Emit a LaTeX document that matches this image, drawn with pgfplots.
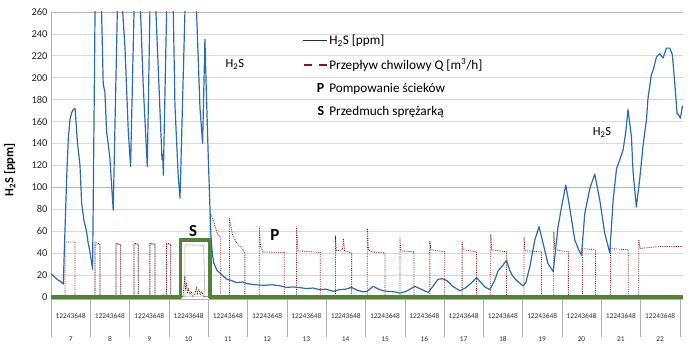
\documentclass[border=0pt]{standalone}
\usepackage{pgfplots}
\pgfplotsset{compat=1.18}
\usepackage{fontspec}
\setmainfont{Carlito}
\definecolor{h2sblue}{RGB}{43,108,176}
\definecolor{legblue}{RGB}{31,45,95}
\definecolor{qred}{RGB}{140,20,20}
\definecolor{sgreen}{RGB}{84,130,53}
\definecolor{gridgray}{RGB}{217,217,217}
\begin{document}
\begin{tikzpicture}
\fill[white] (-51bp,-56bp) rectangle (641bp,299bp);
\path[use as bounding box] (-51bp,-56bp) rectangle (641bp,299bp);
\begin{axis}[
 at={(0,0)}, anchor=south west,
 scale only axis, width=632bp, height=287bp,
 xmin=0, xmax=386, ymin=-2, ymax=260,
 axis x line=bottom, axis y line=left, axis line style={-, gray!60},
 /pgf/number format/assume math mode=true,
 ytick={0,20,...,260}, ymajorgrids, grid style={gridgray, line width=0.7pt},
 extra y ticks={100,260}, extra y tick labels={}, extra y tick style={grid style={gray!55, line width=0.7pt}},
 yticklabel style={font=\fontsize{10.5}{12}\selectfont, text=black!85},
 xtick={12,36,...,372}, xticklabel={12243648},
 xticklabel style={font=\fontsize{7.4}{8}\selectfont, text=black!80, yshift=-11bp},
 extra x ticks={12,36,...,372},
 extra x tick labels={7,8,9,10,11,12,13,14,15,16,17,18,19,20,21,22},
 extra x tick style={xticklabel style={yshift=-23bp}},
 minor xtick={0,24,...,384}, minor tick length=38bp, major tick length=0pt,
 tick align=outside, tick style={gray!60},
 ylabel={\bfseries H\textsubscript{2}S [ppm]},
 ylabel style={at={(axis description cs:-0.065,0.45)}, anchor=center, font=\fontsize{12.5}{14}\selectfont},
 legend style={at={(axis description cs:0.392,0.935)}, anchor=north west, draw=none, fill=none,
   font=\fontsize{13.3}{15}\selectfont, row sep=8.5bp},
 legend cell align=left,
]
\addlegendimage{legend image code/.code={\draw[draw=legblue, solid, line width=1.2pt] (0bp,0bp) -- (24bp,0bp);}}
\addlegendentry{H\textsubscript{2}S [ppm]}
\addlegendimage{legend image code/.code={\draw[draw=qred, line width=1.6pt, dash pattern=on 8bp off 7bp] (1bp,0bp) -- (24bp,0bp);}}
\addlegendentry{Przepływ chwilowy Q [m\textsuperscript{3}/h]}
\addlegendimage{legend image code/.code={\path[draw=none] (0bp,0bp) -- (24bp,0bp);}}
\addlegendentry{\makebox[0pt][r]{\bfseries\fontsize{14}{15}\selectfont P\hspace{5bp}}Pompowanie ścieków}
\addlegendimage{legend image code/.code={\path[draw=none] (0bp,0bp) -- (24bp,0bp);}}
\addlegendentry{\makebox[0pt][r]{\bfseries\fontsize{14}{15}\selectfont S\hspace{5bp}}Przedmuch sprężarką}

% grey auxiliary series
\addplot[gray!60, line width=0.6pt, forget plot] coordinates {
(0,0) (26.9,0) (26.9,48) (29.9,48) (29.9,0) (39.7,0) (39.7,48) (42.6,48) (42.6,0)
(50.7,0) (50.7,48) (53.3,48) (53.3,0) (60.4,0) (60.4,48) (63.5,48) (63.5,0)
(70.6,0) (70.6,48) (73.1,48) (73.1,0) (81.8,0) (81.8,46) (82.6,47.5) (93.2,47) (94,0) (386,0)};

% flow Q
\addplot[qred, densely dotted, line width=0.8pt, forget plot] coordinates {
(0,0) (8.5,0) (8.5,50) (14.7,50) (14.7,0) (26.9,0) (26.9,50) (29.9,48) (29.9,0)
(39.7,0) (39.7,49) (42.6,47) (42.6,0) (50.7,0) (50.7,49) (53.3,48) (53.3,0)
(60.4,0) (60.4,49) (63.5,48) (63.5,0) (70.6,0) (70.6,49) (73.1,48) (73.1,0)
(80.6,0) (81.2,10) (81.7,19) (82.2,6) (82.8,13) (83.4,3) (84,8) (84.8,2) (85.6,5) (86.5,0)
(88,3) (88.8,8) (89.5,3) (90.3,7) (91.2,2) (92,5) (93,1) (94,0)
(97.1,0) (97.1,77) (99.5,68) (101.5,58) (103.7,54) (103.7,0)
(109,0) (109,72) (110.8,57) (113,50) (115.5,46) (118.4,40) (118.4,0)
(127.2,0) (127.2,64) (128,46) (129.5,41) (142.4,40.5) (142.4,0)
(150,0) (150,64) (150.8,42) (164.4,40.5) (164.4,0)
(173.7,0) (173.7,56) (174.3,42) (178,43) (178.6,53) (179.3,42) (183.6,40) (183.6,0)
(193.2,0) (193.2,63) (193.9,43) (196,41) (204,40) (204,0)
(213.1,0) (213.1,54) (213.6,42) (221.7,41) (221.7,0)
(231.4,0) (231.4,51) (232,43) (240.5,41) (240.5,0)
(251.1,0) (251.1,51) (251.7,43) (259.9,41) (259.9,0)
(268.6,0) (268.6,57) (269.2,43) (278.2,41) (278.2,0)
(288.9,0) (288.9,55) (289.5,42) (299.6,41) (299.6,0)
(307.1,0) (307.1,59) (307.7,43) (316,41) (316,0)
(324.6,0) (324.6,44) (332.5,43) (332.5,0)
(341.7,0) (341.7,44) (352.6,43) (352.6,0)
(359,0) (359,52) (359.8,44) (365,45) (372,46) (380,46) (386,46)};

% compressor purge S
\addplot[sgreen, line width=3.6bp, line join=round, forget plot] coordinates {
(0,0) (79,0) (79,52) (97.1,52) (97.1,0) (386,0)};

% H2S
\addplot[h2sblue, line width=1.2pt, line join=round, forget plot] coordinates {
(0,21) (1.5,19) (3,17) (4.5,15) (6,14) (7.5,11.6) (8.5,59) (9.6,110) (10.6,145) (11.6,162)
(12.6,168) (13.6,171) (14.7,172) (16.2,140) (17.7,120) (18.7,86) (20.1,70) (21.8,59) (22.6,50)
(23.8,41) (25.4,25) (26.9,260) (27.2,330) (30.6,330) (30.9,260) (31.9,194) (32.9,187) (34,150)
(35,139) (36,126) (38,79) (40.5,260) (40.8,330) (43.5,330) (43.8,260) (45.2,227) (47.2,151)
(48.6,119) (50.7,260) (51,330) (54.4,330) (54.7,260) (56.3,194) (58.8,119) (60.4,260) (60.7,330)
(63.8,330) (64.1,260) (66.5,172) (67.8,125) (68.2,130) (68.6,111) (70.6,260) (70.9,330) (74.4,330)
(74.7,260) (75.7,175) (77.7,110) (78.8,90) (81.8,260) (82.1,330) (88.6,330) (88.9,260) (91,172)
(92.6,140) (94,235) (95,181) (96,130) (97.1,80) (97.7,55) (98.5,40) (99.4,31) (101.4,24) (103,22)
(105,19) (107.3,16) (110,15) (113.4,13) (117,13.5) (120,12) (125,11) (130,10.5) (135,11) (140,10)
(144,8.6) (148,9) (152,8.4) (156,7.5) (160,8) (164.2,6.5) (168,7) (172.3,5) (176,6.5) (180,7)
(183.6,8.6) (187,6) (190.7,4.5) (193,5) (196.8,9.5) (200,7) (202.9,5.5) (206,5) (210,4.5)
(213.1,3.4) (217,5) (222.2,9.5) (226,7) (230.3,4) (233,9) (236.4,16) (239,16.5) (241.6,15)
(245,10) (249.7,5.5) (253,8) (257,13) (259.9,17.6) (262,14) (265,9) (268,6.5) (271,15) (273.1,24)
(276.1,29) (278.2,33.5) (280.2,24) (282,19) (284.3,15) (288.3,10) (290,13) (292.4,27) (295.5,52)
(298.1,64) (300.5,49) (303.5,30.5) (306.7,23) (309.7,64) (311.8,82) (314.4,102) (316.4,85)
(319.9,52) (322,44) (324,38) (326,76) (329.1,99) (332.1,112) (335.2,88) (338.2,58) (341.3,40)
(343.3,88) (345.4,117) (347.4,125) (349.4,134) (351,150) (352.4,171) (354.5,146) (355.5,114)
(357.5,82) (359.6,108) (361.6,138) (363.7,162) (364.6,181) (366.7,203) (368,208) (369.8,219)
(371.8,222) (373.8,218) (375.9,227) (377.9,227) (379.5,221) (380.9,196) (382.4,167) (383.4,166)
(384.4,163) (385.6,174) (386,172)};

\node[font=\fontsize{12.5}{14}\selectfont] at (axis cs:112.3,212) {H\textsubscript{2}S};
\node[font=\fontsize{12.5}{14}\selectfont] at (axis cs:336.5,150) {H\textsubscript{2}S};
\node[font=\bfseries\fontsize{17}{18}\selectfont] at (axis cs:86.8,60) {S};
\node[font=\bfseries\fontsize{17}{18}\selectfont] at (axis cs:136.8,56) {P};
\node[font=\fontsize{7.4}{8}\selectfont, text=black!80] at (axis cs:202.7,-2) [yshift=-47bp] {19};
\draw[gray!60] (axis cs:0,-2) -- ++(0,-54bp);
\end{axis}
\end{tikzpicture}
\end{document}
